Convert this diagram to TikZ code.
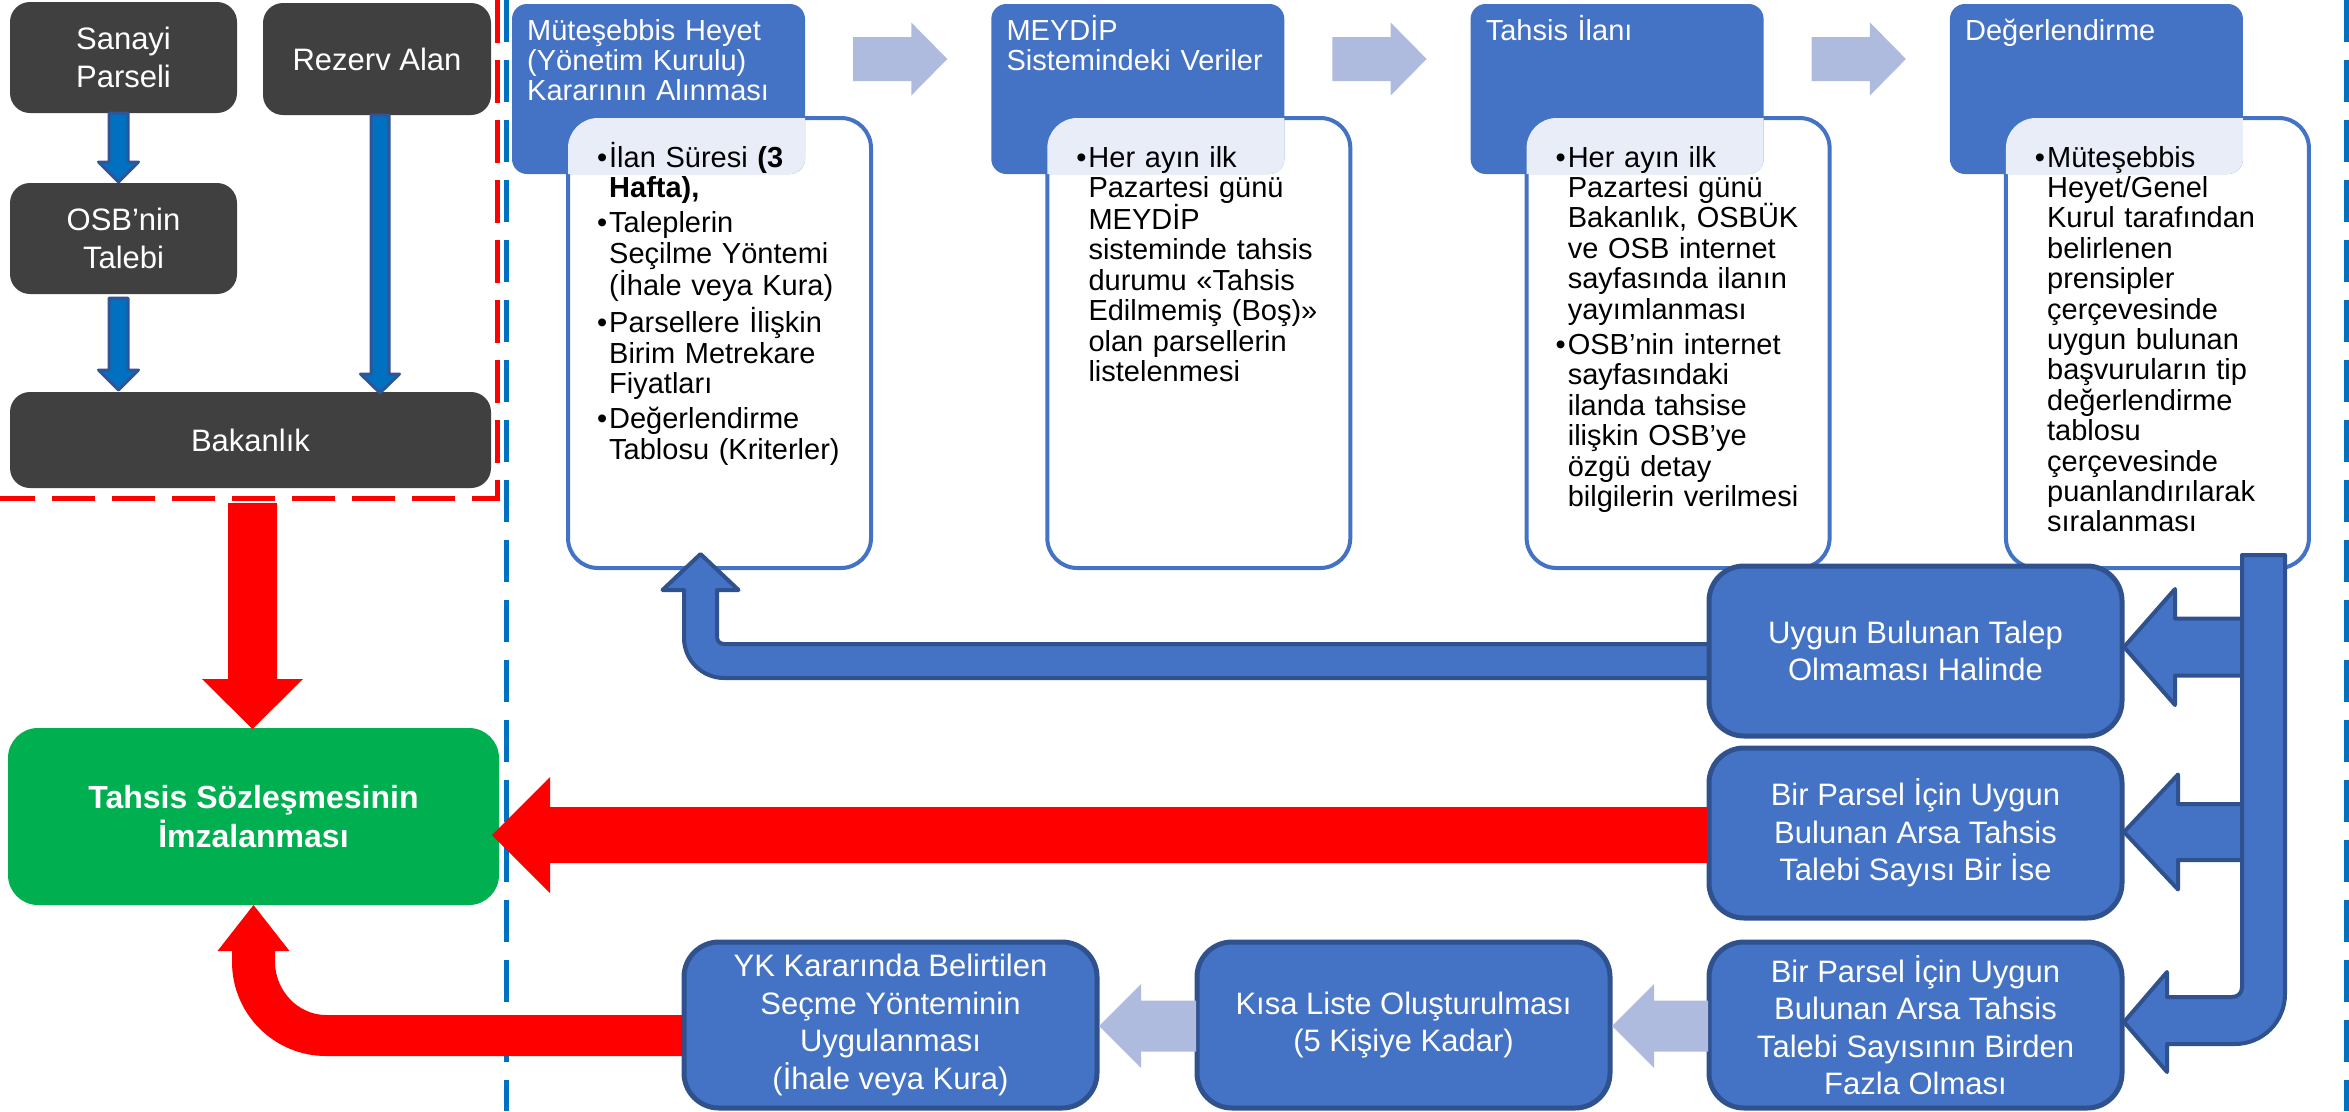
\documentclass[tikz,border=0pt]{standalone}
\usepackage{fontspec}
\setmainfont{Liberation Sans}
\usetikzlibrary{calc}

\definecolor{darkbg}{HTML}{404040}
\definecolor{hdblue}{HTML}{4472C4}
\definecolor{edgeblue}{HTML}{2F528F}
\definecolor{lineblue}{HTML}{0070C0}
\definecolor{arrowedge}{HTML}{2F5597}
\definecolor{paleblue}{HTML}{AEBBDF}
\definecolor{signgreen}{HTML}{00B050}

\newcommand{\bul}{\leavevmode\llap{\textbullet\hspace{2pt}}}
% block arrow: style, from, to, shaft half width, head half width, head length
\newcommand{\fatarrow}[6]{%
  \coordinate (fa-s) at (#2);
  \coordinate (fa-t) at (#3);
  \coordinate (fa-b) at ($(fa-t)!#6!(fa-s)$);
  \path[#1] ($(fa-s)!#4!90:(fa-t)$) -- ($(fa-b)!#4!-90:(fa-s)$)
    -- ($(fa-b)!#5!-90:(fa-s)$) -- (fa-t) -- ($(fa-b)!#5!90:(fa-s)$)
    -- ($(fa-b)!#4!90:(fa-s)$) -- ($(fa-s)!#4!-90:(fa-t)$) -- cycle;}

\tikzset{
  darkbox/.style={rounded corners=20pt, fill=darkbg, text=white, align=center,
    inner sep=0pt, outer sep=0pt, font=\fontsize{31}{38}\selectfont},
  hdbox/.style={rounded corners=15pt, fill=hdblue, inner sep=0pt, outer sep=0pt,
    minimum width=293pt, minimum height=170pt},
  wbox/.style={rounded corners=30pt, fill=white, draw=hdblue, line width=4pt,
    inner sep=0pt, outer sep=0pt, minimum width=303pt, minimum height=450pt},
  hdtext/.style={anchor=base west, inner sep=0pt, text width=285pt, align=left,
    text=white, font=\fontsize{29}{30.4}\selectfont},
  bultext/.style={anchor=base west, inner sep=0pt, text width=255pt, align=left,
    font=\fontsize{29}{30.4}\selectfont},
  bbox/.style={rounded corners=35pt, fill=hdblue, draw=edgeblue, line width=5pt,
    text=white, align=center, inner sep=0pt, outer sep=0pt, minimum width=413pt,
    font=\fontsize{31}{37.5}\selectfont},
  signbox/.style={rounded corners=30pt, fill=signgreen, text=white, align=center,
    inner sep=0pt, outer sep=0pt, minimum width=491pt, minimum height=177pt,
    font=\fontsize{32}{39}\selectfont\bfseries},
  smallarrow/.style={fill=lineblue, draw=arrowedge, line width=3pt, line join=round},
  bluefat/.style={fill=hdblue, draw=edgeblue, line width=4pt, line join=round},
  lightarrow/.style={fill=paleblue},
  redarrow/.style={fill=red},
  reddash/.style={draw=red, line width=5pt, dash pattern=on 43pt off 17pt},
  bluedash/.style={draw=lineblue, line width=5pt, dash pattern=on 42pt off 18pt}
}

\begin{document}
\begin{tikzpicture}[x=1pt, y=-1pt]
  \useasboundingbox (0,0) rectangle (2349,1111);

  % left part
  \node[darkbox, minimum width=227pt, minimum height=111pt] (sanayi) at (123.5,57.5) {Sanayi\\Parseli};
  \node[darkbox, minimum width=228pt, minimum height=112pt] (rezerv) at (377,59) {Rezerv Alan};
  \node[darkbox, minimum width=227pt, minimum height=111pt] (osb) at (123.5,238.5) {OSB’nin\\Talebi};
  \node[darkbox, minimum width=481pt, minimum height=96pt] (bak) at (250.5,440) {Bakanlık};

  \fatarrow{smallarrow}{$(sanayi.south)+(-5,0)$}{$(osb.north)+(-5,-1)$}{9.5pt}{20pt}{20pt}
  \fatarrow{smallarrow}{$(osb.south)+(-5,4)$}{$(osb.south |- bak.north)+(-5,-2)$}{9.5pt}{20pt}{20pt}
  \fatarrow{smallarrow}{$(rezerv.south)+(3,0)$}{$(rezerv.south |- bak.north)+(3,1)$}{9pt}{19.5pt}{19pt}

  \draw[reddash] (497,0) -- (497,498) -- (0,498);
  \draw[bluedash] (506,0) -- (506,1111);
  \draw[bluedash] (2346.5,0) -- (2346.5,1111);

  % top row
  \foreach \i in {1,...,4}{
    \pgfmathsetmacro\cx{658.5+479.3*(\i-1)}
    \node[wbox] (w\i) at (\cx+61,343) {};
    \node[hdbox] (h\i) at (\cx,89) {};
    \begin{scope}
      \clip[rounded corners=15pt] (h\i.south west) rectangle (h\i.north east);
      \fill[white, fill opacity=0.88, rounded corners=30pt] (w\i.south west) rectangle (w\i.north east);
    \end{scope}
  }
  \foreach \i/\j in {1/2,2/3,3/4}{
    \fatarrow{lightarrow}{$(h\i.north east)+(48,55)$}{$(h\j.north west)+(-44,55)$}{22pt}{36.5pt}{36pt}
  }

  \node[hdtext] (ht1) at ($(h1.north west)+(15,36)$) {Müteşebbis Heyet\\(Yönetim Kurulu)\\Kararının Alınması};
  \node[hdtext] (ht2) at ($(h2.north west)+(15,36)$) {MEYDİP\\Sistemindeki Veriler};
  \node[hdtext] (ht3) at ($(h3.north west)+(15,36)$) {Tahsis İlanı};
  \node[hdtext] (ht4) at ($(h4.north west)+(15,36)$) {Değerlendirme};

  \node[bultext] (bt1) at ($(w1.north west)+(41,49)$) {\bul İlan Süresi \textbf{(3}\\\textbf{Hafta),}\\[5pt]\bul Taleplerin\\Seçilme Yöntemi\\(İhale veya Kura)\\[5pt]\bul Parsellere İlişkin\\Birim Metrekare\\Fiyatları\\[5pt]\bul Değerlendirme\\Tablosu (Kriterler)};
  \node[bultext] (bt2) at ($(w2.north west)+(41,49)$) {\bul Her ayın ilk\\Pazartesi günü\\MEYDİP\\sisteminde tahsis\\durumu «Tahsis\\Edilmemiş (Boş)»\\olan parsellerin\\listelenmesi};
  \node[bultext] (bt3) at ($(w3.north west)+(41,49)$) {\bul Her ayın ilk\\Pazartesi günü\\Bakanlık, OSBÜK\\ve OSB internet\\sayfasında ilanın\\yayımlanması\\[5pt]\bul OSB’nin internet\\sayfasındaki\\ilanda tahsise\\ilişkin OSB’ye\\özgü detay\\bilgilerin verilmesi};
  \node[bultext] (bt4) at ($(w4.north west)+(41,49)$) {\bul Müteşebbis\\Heyet/Genel\\Kurul tarafından\\belirlenen\\prensipler\\çerçevesinde\\uygun bulunan\\başvuruların tip\\değerlendirme\\tablosu\\çerçevesinde\\puanlandırılarak\\sıralanması};

  % signing
  \node[signbox] (sign) at (253.5,816.5) {Tahsis Sözleşmesinin\\İmzalanması};

  % arrows of the lower part
  \filldraw[bluefat] (1709,644) -- (724,644) .. controls (720,644) and (717,641) .. (717,637)
    -- (717,590) -- (738.5,590) -- ($(w1.south)+(-19,-14)$) -- (662.5,590) -- (684,590)
    -- (684,638) .. controls (684,660) and (702,678) .. (724,678) -- (1709,678) -- cycle;

  \fatarrow{bluefat}{2246,647}{2124,647}{28.5pt}{58pt}{51pt}
  \fatarrow{bluefat}{2246,832}{2124,832}{28pt}{57.5pt}{54pt}
  \filldraw[bluefat] (2242,555) -- (2242,987) .. controls (2242,993) and (2238,997) .. (2232,997)
    -- (2167,997) -- (2167,972) -- (2124,1022) -- (2167,1072) -- (2167,1044) -- (2235,1044)
    .. controls (2262.6,1044) and (2285,1021.6) .. (2285,994) -- (2285,555) -- cycle;

  \node[bbox, minimum height=170pt] (ub1) at (1915.5,651) {Uygun Bulunan Talep\\Olmaması Halinde};
  \node[bbox, minimum height=170pt] (ub2) at (1915.5,833) {Bir Parsel İçin Uygun\\Bulunan Arsa Tahsis\\Talebi Sayısı Bir İse};
  \node[bbox, minimum height=166pt] (ub3) at (1915.5,1025) {Bir Parsel İçin Uygun\\Bulunan Arsa Tahsis\\Talebi Sayısının Birden\\Fazla Olması};
  \node[bbox, minimum height=166pt] (kisa) at (1403.5,1025) {Kısa Liste Oluşturulması\\(5 Kişiye Kadar)};
  \node[bbox, minimum height=166pt] (yk) at (890.5,1025) {YK Kararında Belirtilen\\Seçme Yönteminin\\Uygulanması\\(İhale veya Kura)};

  \fatarrow{lightarrow}{$(ub3.west)+(-1,1)$}{$(kisa.east)+(2,1)$}{25.5pt}{42pt}{42pt}
  \fatarrow{lightarrow}{$(kisa.west)+(-1,1)$}{$(yk.east)+(2,1)$}{25.5pt}{42pt}{42pt}

  \fatarrow{redarrow}{$(sign.north |- bak.south)+(-1,15)$}{$(sign.north)+(-1,1)$}{24.5pt}{50.5pt}{50pt}
  \fatarrow{redarrow}{$(ub2.west)+(-2,2)$}{$(sign.east |- ub2.west)+(-7,2)$}{28pt}{58pt}{58pt}
  \fill[red] ($(yk.west)+(-2,-10)$) -- (326,1015) .. controls (297.8,1015) and (275,990.2) .. (275,962)
    -- (275,951) -- (289.5,951) -- (sign.south) -- (217.5,951) -- (232,951)
    -- (232,962) .. controls (232,1013.9) and (274.1,1056) .. (326,1056) -- ($(yk.west)+(-2,31)$) -- cycle;
\end{tikzpicture}
\end{document}
